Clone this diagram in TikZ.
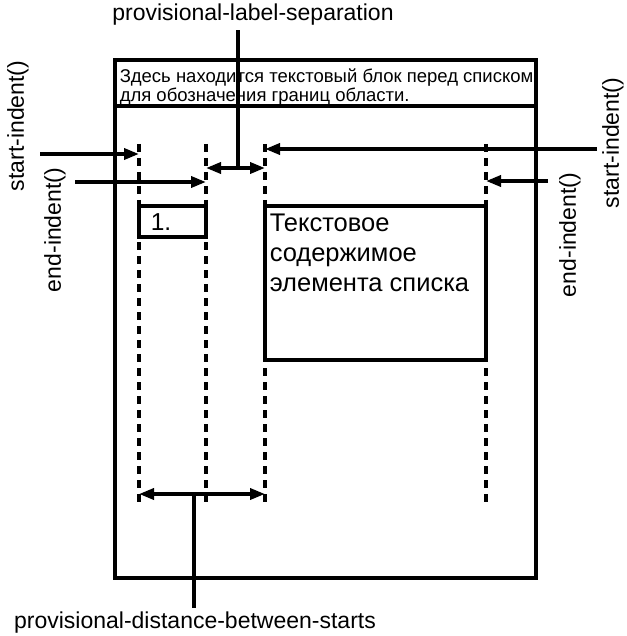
\documentclass[tikz,border=0pt]{standalone}
\usepackage{fontspec}
\setmainfont{Liberation Sans}
\usetikzlibrary{arrows.meta}
\begin{document}
\begin{tikzpicture}[x=1pt,y=-1pt,line width=3.5pt,
        tip/.style={-{Triangle[length=15pt,width=11pt]}},
        both/.style={{Triangle[length=15pt,width=11pt]}-{Triangle[length=15pt,width=11pt]}},
        guide/.style={dash pattern=on 8pt off 6pt},
        lbl/.style={font=\fontsize{23}{27}\selectfont}]
        \useasboundingbox (0,0) rectangle (626,636);
        % page area and the text block above the list
        \draw (115,60) rectangle (536,578);
        \draw (115,106) -- (536,106);
        \node[anchor=north west,align=left,inner sep=0pt,font=\fontsize{18.5}{19.5}\selectfont](head)at(118,67){Здесь находится текстовый блок перед списком\\для обозначения границ области.};
        % indent guides
        \foreach \n/\x in {sa/139,ea/206,sb/265,eb/486} \draw[guide] (\x,144) coordinate (\n) -- (\x,507);
        % label and body of the item
        \draw (139,206) rectangle (206,237);
        \node[lbl,font=\fontsize{24.5}{29}\selectfont](num)at(161,222){1.};
        \draw (265,206) rectangle (486,360);
        \node[anchor=north west,align=left,inner sep=0pt,font=\fontsize{25.5}{30}\selectfont](body)at(268,212){Текстовое\\содержимое\\элемента списка};
        % indent arrows
        \coordinate (si1) at (40,154);
        \coordinate (ei1) at (75,182);
        \coordinate (si2) at (597,149);
        \coordinate (ei2) at (548,181);
        \draw[tip] (si1) -- (si1 -| sa);
        \draw[tip] (ei1) -- (ei1 -| ea);
        \draw[tip] (si2) -- (si2 -| sb);
        \draw[tip] (ei2) -- (ei2 -| eb);
        \node[lbl,rotate=90](sil)at(18,126){start-indent()};
        \node[lbl,rotate=90](eil)at(55,230){end-indent()};
        \node[lbl,rotate=90](sir)at(613,143){start-indent()};
        \node[lbl,rotate=90](eir)at(570,235){end-indent()};
        % label separation
        \coordinate (sep) at (238,168);
        \coordinate (pls) at (238,30);
        \draw[both] (sep -| ea) -- (sep -| sb);
        \draw (sep) -- (pls);
        \node[lbl](plsl)at(253,15){provisional-label-separation};
        % distance between starts
        \coordinate (dbs) at (194,494);
        \coordinate (pdb) at (194,608);
        \draw[both] (dbs -| sa) -- (dbs -| sb);
        \draw (dbs) -- (pdb);
        \node[lbl](pdbl)at(195,623){provisional-distance-between-starts};
    \end{tikzpicture}
\end{document}
